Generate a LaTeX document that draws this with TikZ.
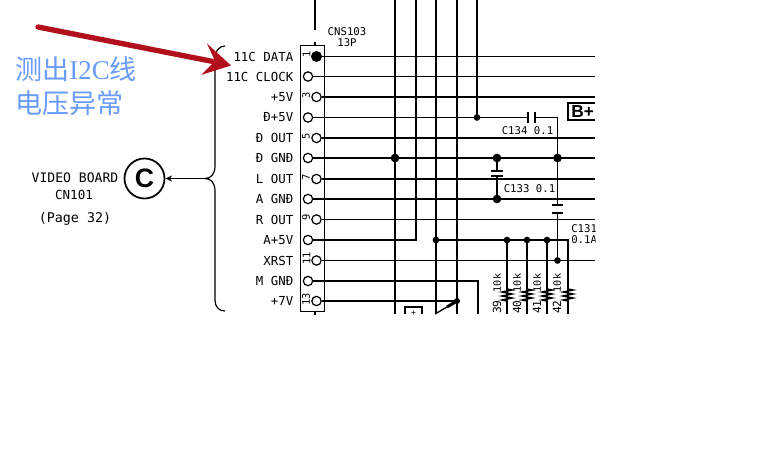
\documentclass[tikz,border=0pt]{standalone}
\usepackage{fontspec}
\setmainfont{Liberation Serif}
\setsansfont{Liberation Sans}
\setmonofont{DejaVu Sans Mono}
\newfontfamily\cjk{Noto Sans CJK SC}
\usetikzlibrary{arrows.meta}
\definecolor{notec}{RGB}{105,155,250}
\definecolor{redarrow}{RGB}{178,16,28}
\tikzset{
 x=0.75pt,y=-0.75pt,
 wire/.style={line width=1pt,black},
 heavywire/.style={line width=2pt,black},
 pin/.style={circle,draw,fill=white,line width=0.9pt,inner sep=0pt,minimum size=7pt},
 jn/.style={circle,fill=black,inner sep=0pt,minimum size=5pt},
 bigjn/.style={circle,fill=black,inner sep=0pt,minimum size=6.5pt},
 lbl/.style={inner sep=0pt,font=\ttfamily\fontsize{9.3pt}{10pt}\selectfont,text=black},
 sm/.style={inner sep=0pt,font=\ttfamily\fontsize{8pt}{9pt}\selectfont,text=black},
 num/.style={inner sep=0pt,rotate=90,font=\ttfamily\fontsize{7.8pt}{8pt}\selectfont},
 note/.style={inner sep=0pt,anchor=west,text=notec,font=\fontsize{20.3pt}{22pt}\selectfont},
 plate/.style={line width=1.3pt},
}
\begin{document}
\begin{tikzpicture}
\useasboundingbox (0,0) rectangle (768,460);
\fill[white] (0,0) rectangle (768,460);
% connector body
\node[draw,line width=0.9pt,minimum width=18pt,minimum height=199pt,inner sep=0pt] (box) at (312.7,178.5) {};
\coordinate (top1) at (315,0); \coordinate (top1e) at (315,30);
\coordinate (top2) at (315,42); \coordinate (bot) at (315,315);
\draw[wire,line width=1.2pt] (top1)--(top1e);
\draw[wire] (top2)--(box.north -| top2);
\draw[wire,line width=1.2pt] (box.south -| bot)--(bot);
\node[sm] (cns) at (347,32) {CNS103};
\node[sm] (tp) at (347,43) {13P};
% pins
\foreach \n/\x/\y in {1/316.5/56.5,2/308/76.5,3/316.5/97,4/308/117.5,5/316.5/138,6/308/158,7/316.5/179,8/308/199,9/316.5/219.5,10/308/240,11/316.5/260.5,12/308/281,13/316.5/301}
 \node[pin] (p\n) at (\x,\y) {};
\node[jn,minimum size=8pt] (p1dot) at (p1) {};
\coordinate (re) at (595,0);
% rails
\foreach \n in {1,2,3,5,7,9,11}
 \draw[wire] (p\n) -- (re |- p\n);
\draw[heavywire] (p6) -- (re |- p6);
\draw[heavywire] (p8) -- (re |- p8);
\draw[wire] (p10) -- (416,240) -- (416,0);
\coordinate (j477) at (477,117.5);
\draw[wire] (p4) -- (j477);
\draw[wire] (477,0) -- (j477);
\draw[wire] (436,0) -- (436,314);
\draw[wire] (457,0) -- (457,314);
\draw[line width=1.7pt] (395,0) -- (395,314);
\draw[heavywire] (p12) -- (478,281) -- (478,314);
\coordinate (dd) at (457,301);
\draw[wire] (p13) -- (dd);
\node[jn] (j477n) at (j477) {};
% diagonal element and box
\draw[line width=2.2pt] (447,307) -- (dd);
\draw[wire] (435,314) -- (447,307);
\node[jn,minimum size=4.5pt] (ddn) at (dd) {};
\draw[line width=1.2pt] (405,314) |- (422,307) -- (422,314);
\node[inner sep=0pt,font=\ttfamily\fontsize{6pt}{6pt}\selectfont] (pl) at (413.5,313) {+};
% C134
\coordinate (c134a) at (528,117.5); \coordinate (c134b) at (535,117.5);
\coordinate (j557) at (557.5,158);
\draw[wire] (j477) -- (c134a);
\draw[wire] (c134b) -- (557.5,117.5) -- (j557);
\draw[plate] (528,112) -- (528,123) (535,112) -- (535,123);
\node[sm] (c134) at (527.5,131) {C134 0.1};
% C133
\coordinate (j497t) at (497,158); \coordinate (j497b) at (497,199);
\draw[wire] (j497t) -- (497,171) (497,176) -- (j497b);
\draw[plate] (491,171) -- (503,171) (491,176) -- (503,176);
\node[bigjn] (a1) at (j497t) {}; \node[bigjn] (a2) at (j497b) {};
\node[sm] (c133) at (529.5,188.5) {C133 0.1};
\node[bigjn] (a3) at (395,158) {};
\node[bigjn] (a4) at (j557) {};
% C131
\draw[wire] (j557) -- (557.5,205) (557.5,213) -- (557.5,260.5);
\draw[plate] (552,205) -- (563,205) (552,213) -- (563,213);
\node[jn] (a5) at (557.5,260.5) {};
\node[sm,anchor=west] (c131) at (571,229) {C131};
\node[sm,anchor=west] (c131v) at (571,240) {0.1A};
% y=240 rail
\draw[wire] (436,240) -- (568,240) -- (568,314);
\foreach \x in {436,507,527,547} \node[jn] (r\x) at (\x,240) {};
% resistors
\foreach \x in {507,527,547} \draw[wire] (\x,240) -- (\x,314);
\foreach \x in {507,527,547,568}
 \draw[line width=1.1pt,fill=white] (\x,289) -- (\x+5,290) -- (\x-5,292) -- (\x+5,294) -- (\x-5,296) -- (\x+5,298) -- (\x-5,300) -- (\x,301);
\foreach \x/\a in {497/39,517/40,537/41,557/42}{
 \node[sm,rotate=90,font=\ttfamily\fontsize{8.4pt}{9pt}\selectfont] (n\a) at (\x,307) {\a};
 \node[sm,rotate=90,font=\ttfamily\fontsize{7.6pt}{8pt}\selectfont] (k\a) at (\x,283) {10k};
}
% B+ (open on the right)
\draw[line width=1.2pt] (595,103) -- (568,103) -- (568,120) -- (595,120);
\node[inner sep=0pt,font=\sffamily\bfseries\fontsize{13pt}{14pt}\selectfont,anchor=west] (bp) at (571,112) {B+};
\fill[white] (595.6,100) rectangle (610,122) (595.6,225) rectangle (610,246);
% pin labels
\coordinate (lx) at (293.5,0);
\foreach \n/\t in {1/11C DATA,2/11C CLOCK,3/+5V,4/Đ+5V,5/Đ OUT,6/Đ GNĐ,7/L OUT,8/A GNĐ,9/R OUT,10/A+5V,11/XRST,12/M GNĐ,13/+7V}
 \node[lbl,anchor=east] (t\n) at (lx |- p\n) {\t};
% pin numbers
\foreach \n/\x/\y in {1/306.5/54,3/306/95,5/306/136,7/306/177,9/306/217.5,11/306.5/258,13/306/299}
 \node[num] (m\n) at (\x,\y) {\n};
% brace
\coordinate (brtip) at (205,178.5);
\draw[line width=0.9pt] (225,46) .. controls (219,46) and (215,51) .. (215,60) -- (215,166) .. controls (215,174) and (211,178.5) .. (brtip) .. controls (211,178.5) and (215,183) .. (215,191) -- (215,300) .. controls (215,307) and (219,311) .. (225,311);
% C circle
\node[circle,draw,line width=1.3pt,minimum size=30pt,inner sep=0pt,font=\sffamily\bfseries\fontsize{20pt}{22pt}\selectfont] (cc) at (144.5,178.5) {C};
\draw[line width=0.9pt,-{Stealth[length=5pt,width=4.5pt]}] (brtip) -- (cc);
\node[inner sep=0pt,font=\ttfamily\fontsize{9.8pt}{10pt}\selectfont] (v1) at (75,178) {VIDEO BOARD};
\node[inner sep=0pt,font=\ttfamily\fontsize{9.4pt}{10pt}\selectfont] (v2) at (74,195) {CN101};
\node[inner sep=0pt,font=\ttfamily\fontsize{10pt}{10pt}\selectfont] (v3) at (75,219) {(Page 32)};
% note
\node[note] (n1) at (15,69) {{\cjk 测出}I2C{\cjk 线}};
\node[note] (n2) at (15,103) {{\cjk 电压异常}};
% red arrow
\draw[redarrow,line width=4pt,line cap=round] (38,27) -- (218,62.5);
\fill[redarrow] (231,65.5) -- (207,43.5) -- (215,61) -- (201,75) -- cycle;
\end{tikzpicture}
\end{document}
